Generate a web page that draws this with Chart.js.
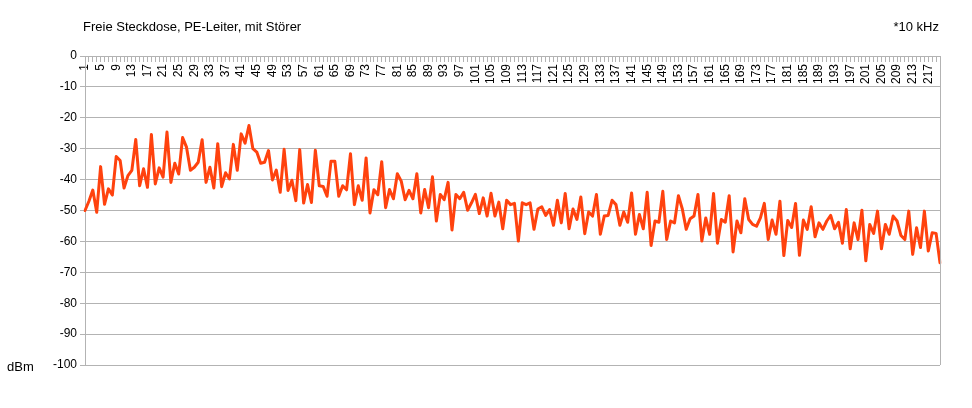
<!DOCTYPE html>
<html>
<head>
<meta charset="utf-8">
<script src="https://cdn.jsdelivr.net/npm/chart.js@4"></script>
<style>
  html, body { margin: 0; padding: 0; background: #fff; }
  #wrap { width: 972px; height: 408px; }
</style>
</head>
<body>
<div id="wrap"><canvas id="c"></canvas></div>
<script>
const categories = Array.from({ length: 220 }, (_, i) => String(i + 1))
const levels = [
  -50, -47, -43.4, -50.6, -35.8, -48, -43, -45, -32.5, -33.8,
  -42.7, -38.7, -37, -27, -42, -36.5, -42.5, -25.4, -41.4, -36.2,
  -39.2, -24.6, -40.9, -34.7, -38.2, -26.4, -29.5, -37, -36, -34.4,
  -27.1, -40.9, -36, -42.7, -28.4, -42.3, -37.8, -39.8, -28.6, -37,
  -25.2, -28.2, -22.5, -30, -31.1, -34.7, -34.4, -30.6, -40.1, -36.9,
  -44.1, -30.2, -43.5, -40.2, -46.8, -30.3, -47.6, -41.6, -47.4, -30.5,
  -42, -42.2, -45.4, -34.1, -34.1, -45.4, -42, -43.3, -31.6, -48.1,
  -42, -46.7, -33, -50.8, -43.3, -44.9, -34.2, -49.1, -43.2, -46.2,
  -38.1, -40.5, -46.5, -43.5, -46.2, -38.1, -50.8, -43.2, -49.1, -39.1,
  -53.4, -44.8, -46.5, -40.9, -56.3, -44.8, -46.2, -44.1, -49.9, -47.5,
  -44.8, -51, -45.9, -51.8, -44.4, -51.8, -47.3, -55.9, -46.7, -48.1,
  -47.7, -59.9, -47.5, -48.1, -47.5, -56.1, -49.5, -48.8, -51.6, -49.7,
  -54.8, -46.7, -54, -44.5, -55.9, -49.5, -52.9, -45.6, -57.5, -50.5,
  -51.8, -44.8, -57.7, -51.8, -51.6, -46.7, -48.1, -54.8, -50.5, -53.8,
  -44.3, -57.7, -51.3, -55.9, -44.1, -61.3, -53.4, -53.8, -43.8, -59.4,
  -53.4, -54, -45.2, -49.5, -56.1, -52.7, -51.8, -44.8, -59.9, -52.4,
  -57.7, -44.5, -60.6, -52.9, -53.8, -45.2, -63.4, -53.4, -57.2, -46.2,
  -52.9, -54.5, -55.1, -52.4, -47.7, -59.4, -53.1, -57.7, -47, -64.6,
  -53.2, -55.5, -47.7, -64.5, -53.1, -56.1, -48.8, -58.5, -54, -56.1,
  -53.4, -51.6, -55.9, -53.8, -60.6, -49.7, -62.4, -54, -59.4, -49.9,
  -66.3, -54.5, -57.4, -50.2, -62.4, -54.5, -57.7, -51.8, -53.4, -58.1,
  -59.4, -50.2, -64.2, -55.6, -62, -50.2, -63.1, -57.2, -57.4, -66.9
]
const yTicks = [0, -10, -20, -30, -40, -50, -60, -70, -80, -90, -100]
const labelEvery = 4

const titleText = "Freie Steckdose, PE-Leiter, mit Störer"
const unitX = "*10 kHz"
const unitY = "dBm"

const FONT = "'Liberation Sans', Arial, sans-serif"
const GRID = "#b3b3b3"

// texts around the plot and the right wall line
const decor = {
  id: "decor",
  afterDraw(chart) {
    const ctx = chart.ctx
    const a = chart.chartArea
    ctx.save()
    ctx.strokeStyle = GRID
    ctx.lineWidth = 1
    ctx.beginPath()
    ctx.moveTo(Math.round(a.right) + 0.5, a.top)
    ctx.lineTo(Math.round(a.right) + 0.5, a.bottom)
    ctx.stroke()
    ctx.fillStyle = "#000"
    ctx.font = "13px " + FONT
    ctx.textBaseline = "alphabetic"
    ctx.textAlign = "left"
    ctx.fillText(titleText, 83, 30.5)
    ctx.fillText(unitY, 7, 371)
    ctx.textAlign = "right"
    ctx.fillText(unitX, 939, 30.5)
    ctx.restore()
  }
}

new Chart(document.getElementById("c"), {
  type: "line",
  data: {
    labels: categories,
    datasets: [{
      data: levels,
      borderColor: "#ff420e",
      borderWidth: 3,
      borderJoinStyle: "round",
      borderCapStyle: "round",
      pointRadius: 0,
      tension: 0,
      fill: false
    }]
  },
  options: {
    responsive: true,
    maintainAspectRatio: false,
    animation: false,
    layout: { padding: { left: 0, top: 56, right: 32, bottom: 43 } },
    plugins: { legend: { display: false }, tooltip: { enabled: false } },
    scales: {
      x: {
        position: { y: 0 },
        offset: false,
        grid: { drawOnChartArea: false, drawTicks: true, tickLength: 5, color: GRID },
        border: { color: GRID },
        ticks: {
          autoSkip: false,
          minRotation: 90,
          maxRotation: 90,
          padding: 3,
          color: "#000",
          font: { family: FONT, size: 12 },
          callback: (v, i) => (i % labelEvery === 0 ? categories[i] : "")
        }
      },
      y: {
        min: -100,
        max: 0,
        afterFit: s => { s.width = 85 },
        afterBuildTicks: s => { s.ticks = yTicks.map(v => ({ value: v })) },
        grid: { color: GRID, tickLength: 5 },
        border: { color: GRID },
        ticks: {
          padding: 3,
          color: "#000",
          font: { family: FONT, size: 12 }
        }
      }
    }
  },
  plugins: [decor]
})
</script>
</body>
</html>
